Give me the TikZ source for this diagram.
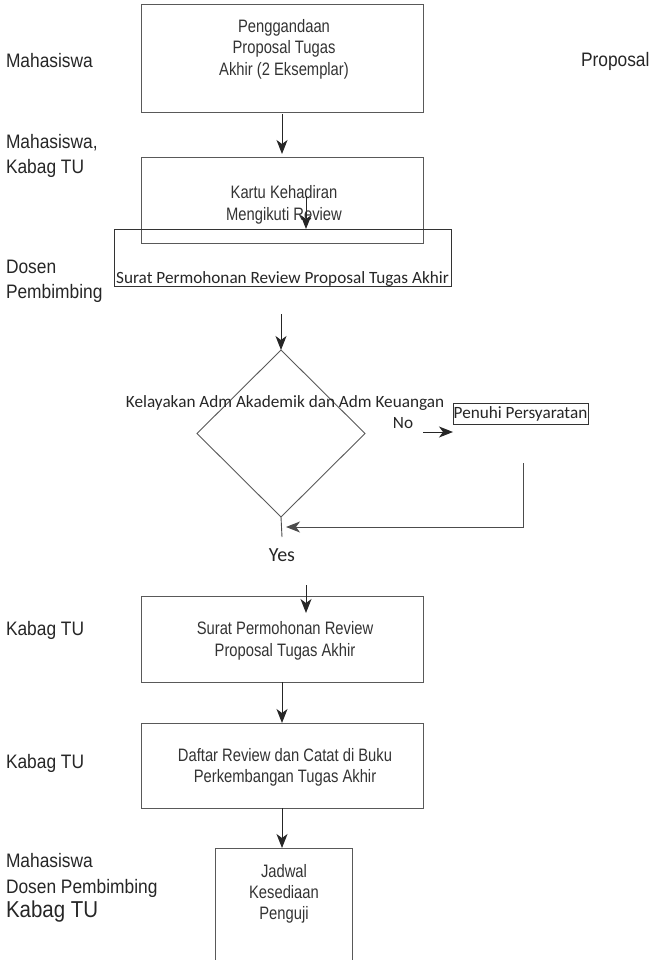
\documentclass[tikz,border=0pt]{standalone}
\usepackage{fontspec}
\setmainfont{Liberation Sans}
\newfontfamily\labf{Liberation Sans}[FakeStretch=0.89]
\newfontfamily\boxf{Liberation Sans}[FakeStretch=0.82]
\newfontfamily\carf{Carlito}
\usetikzlibrary{shapes.geometric,arrows.meta}
\begin{document}
\begin{tikzpicture}[x=1pt,y=-1pt,
  every node/.style={inner sep=0pt, outer sep=0pt},
  proc/.style={draw=black!65, line width=0.9pt, rectangle},
  lab/.style={anchor=west, align=left, text=black!85, font=\labf\fontsize{19.5}{24.5}\selectfont},
  btxt/.style={align=center, text=black!80, font=\boxf\fontsize{18}{21.5}\selectfont},
  ctxt/.style={text=black!85, font=\carf\fontsize{17.2}{20}\selectfont},
  arr/.style={draw=black!85, line width=1pt, -{Stealth[length=14pt,width=11pt,inset=4pt]}},
  ln/.style={draw=black!70, line width=0.9pt}]

\useasboundingbox (0,0) rectangle (650,960);

% process boxes
\node[proc, minimum width=282pt, minimum height=108pt] (b1) at (282,58) {};
\node[proc, minimum width=282pt, minimum height=86pt] (b2) at (282,200) {};
\node[proc, draw=black!80, minimum width=337pt, minimum height=57pt] (b3) at (282.5,257.5) {};
\node[draw=black!65, line width=0.9pt, diamond, minimum width=168pt, minimum height=167pt] (dia) at (281,433.5) {};
\node[proc, draw=black!80, minimum width=135pt, minimum height=21pt, ctxt] (pen) at (520.5,413.5) {Penuhi Persyaratan};
\node[proc, minimum width=282pt, minimum height=86pt] (b4) at (282,639) {};
\node[proc, minimum width=282pt, minimum height=85pt] (b5) at (282,765.5) {};
\node[proc, minimum width=137pt, minimum height=127pt] (b6) at (283.5,911.5) {};

% box texts
\node[btxt] (t1) at (284,49) {Penggandaan\\Proposal Tugas\\Akhir (2 Eksemplar)};
\node[btxt] (t2) at (284,205) {Kartu Kehadiran\\Mengikuti Review};
\node[ctxt] (t3) at (282.5,279) {Surat Permohonan Review Proposal Tugas Akhir};
\node[ctxt] (t4) at (285,403) {Kelayakan Adm Akademik dan Adm Keuangan};
\node[ctxt] (no) at (403,423) {No};
\node[ctxt, font=\carf\fontsize{20}{22}\selectfont] (yes) at (282,555) {Yes};
\node[btxt] (t5) at (285,641) {Surat Permohonan Review\\Proposal Tugas Akhir};
\node[btxt] (t6) at (285,767.5) {Daftar Review dan Catat di Buku\\Perkembangan Tugas Akhir};
\node[btxt, font=\boxf\fontsize{18}{21}\selectfont] (t7) at (284,894) {Jadwal\\Kesediaan\\Penguji};

% lane labels
\node[lab] (l1) at (6,61) {Mahasiswa};
\node[lab] (r1) at (581,61) {Proposal};
\node[lab] (l2) at (6,156) {Mahasiswa,\\Kabag TU};
\node[lab, font=\labf\fontsize{19.5}{25}\selectfont] (l3) at (6,281.5) {Dosen\\Pembimbing};
\node[lab] (l4) at (6,630) {Kabag TU};
\node[lab] (l5) at (6,763) {Kabag TU};
\node[lab, font=\labf\fontsize{19.5}{26}\selectfont] (l6) at (6,875) {Mahasiswa\\Dosen Pembimbing};
\node[lab, font=\labf\fontsize{23}{26}\selectfont] (l7) at (6,912) {Kabag TU};

% connectors
\draw[arr, shorten <=2pt, shorten >=3pt] (b1) -- (b2);
\coordinate (k1) at (306,196);
\draw[arr] (k1) -- (k1 |- b3.north);
\coordinate (d0) at (281,314);
\draw[arr] (d0) -- (dia.north);
\coordinate (ys) at (282,537);
\draw[ln] (dia.south) -- (ys);
\coordinate (n0) at (423,432);
\draw[arr] (n0) -- (n0 -| pen.west);
\coordinate (f0) at (523,463);
\coordinate (f1) at (286,527);
\draw[arr, draw=black!70] (f0) |- (f1);
\coordinate (s4) at (306,585);
\coordinate (e4) at (306,613);
\draw[arr] (s4) -- (e4);
\draw[arr] (b4) -- (b5);
\draw[arr] (b5.south) -- (b5.south |- b6.north);
\end{tikzpicture}
\end{document}
